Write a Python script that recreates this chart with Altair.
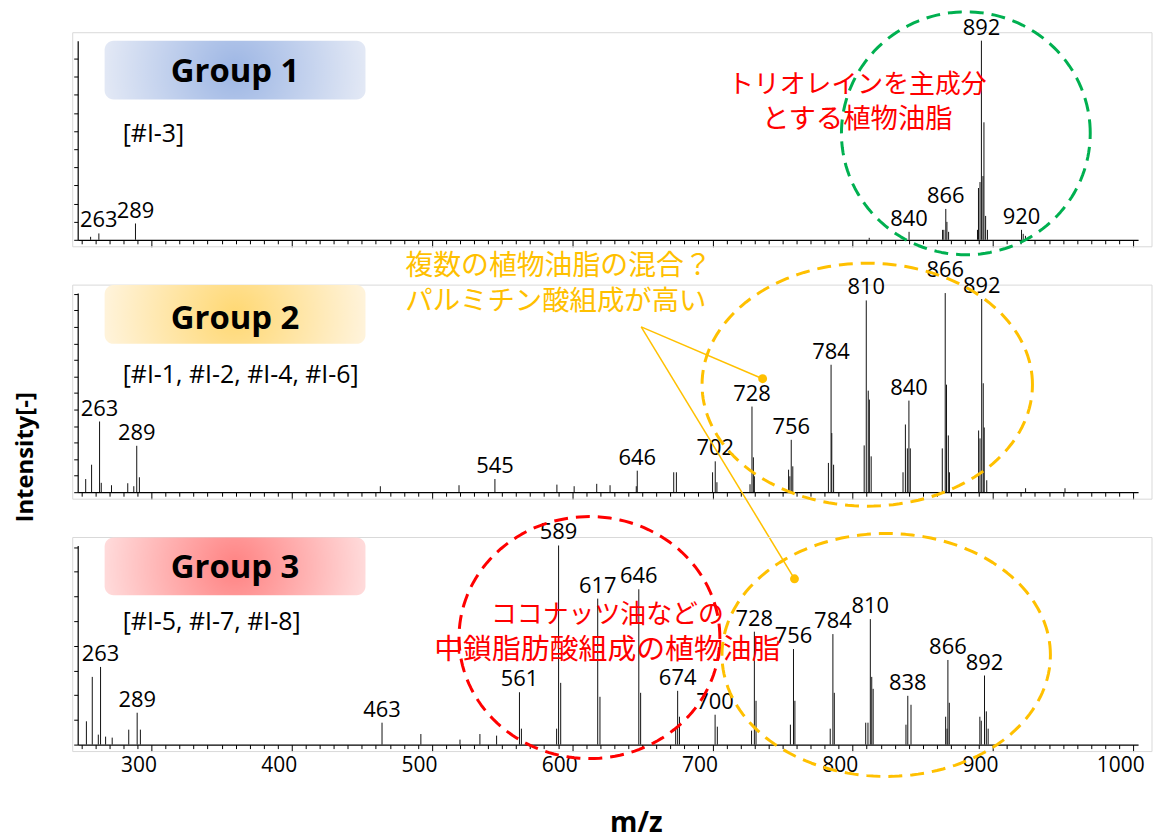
import altair as alt
import numpy as np
import pandas as pd

# ---------------- layout constants ----------------
MZ_MIN, MZ_MAX = 247.4, 1003.5
PW, PH = 1065, 200
GAP = 53.5

GREEN, ORANGE, RED = "#00B050", "#FFC000", "#FF0000"
LATIN = "Open Sans"
CJK = "Noto Sans CJK JP"

X_TICKS = list(range(250, 1001, 10))

# ---------------- data: Group 1 ----------------
g1_mz = [256.6, 262.5, 288.6, 811.8, 840.2, 864.1, 865.0, 866.4, 867.2, 868.4,
         889.0, 889.7, 890.8, 891.8, 892.9, 893.6, 894.8, 896.1, 920.4, 921.6, 923.2]
g1_int = [1.5, 3.2, 8.2, 1.0, 4.0, 5.0, 5.0, 15.5, 9.0, 4.0,
          5.0, 26.0, 29.0, 100.0, 32.0, 59.0, 12.0, 5.0, 5.0, 3.0, 2.0]
g1_labels = ["263", "289", "840", "866", "892", "920"]
g1_label_mz = [262.5, 288.6, 840.2, 866.4, 891.8, 920.4]
g1_label_int = [3.2, 8.2, 4.0, 15.5, 100.0, 5.0]
g1_yticks = [0, 9.1, 18.2, 27.3, 36.4, 45.5, 54.6, 63.7, 72.8, 81.9, 91.0, 100.1]

# ---------------- data: Group 2 ----------------
g2_mz = [253.1, 257.3, 263.0, 264.2, 271.5, 283.1, 287.4, 289.5, 291.4, 463.2,
         519.3, 544.9, 589.1, 601.4, 617.5, 627.0, 645.7, 646.4, 672.4, 674.3,
         700.1, 702.0, 703.2, 726.8, 728.2, 729.2, 729.9, 754.3, 755.2, 756.2,
         757.3, 782.7, 784.6, 785.1, 786.4, 808.2, 809.7, 811.1, 811.9, 813.2,
         835.9, 837.6, 839.0, 840.1, 841.1, 863.9, 866.0, 866.9, 868.2, 869.0,
         889.8, 890.8, 892.0, 893.1, 893.8, 895.6, 923.3, 951.4]
g2_int = [6.6, 13.8, 35.5, 4.7, 3.5, 4.5, 3.0, 23.3, 7.5, 3.0,
          3.5, 6.6, 3.8, 3.0, 4.2, 3.5, 3.0, 10.8, 10.0, 10.0,
          10.0, 15.5, 5.0, 4.0, 43.0, 17.5, 8.0, 11.3, 8.0, 26.3,
          13.0, 14.7, 64.0, 29.7, 13.8, 23.5, 96.3, 51.0, 46.5, 18.0,
          10.0, 34.0, 22.0, 46.0, 22.0, 22.0, 100.0, 54.0, 28.5, 10.0,
          31.0, 27.0, 97.0, 54.7, 32.5, 6.0, 2.0, 2.0]
g2_labels = ["263", "289", "545", "646", "702", "728", "756", "784", "810", "840", "866", "892"]
g2_label_mz = [263.0, 289.5, 544.9, 646.4, 702.0, 728.2, 756.2, 784.6, 809.7, 840.1, 866.0, 892.0]
g2_label_int = [35.5, 23.3, 6.6, 10.8, 15.5, 43.0, 26.3, 64.0, 96.3, 46.0, 100.0, 97.0]
g2_yticks = [0, 8.3, 16.6, 24.9, 33.2, 41.5, 49.8, 58.1, 66.4, 74.7, 83.0, 91.3, 99.6]

# ---------------- data: Group 3 ----------------
g3_mz = [253.6, 257.8, 262.1, 263.7, 267.3, 272.0, 283.8, 289.8, 292.1, 464.4,
         492.1, 520.0, 534.2, 546.1, 562.4, 563.8, 588.9, 590.3, 591.8, 618.2,
         619.8, 647.5, 648.8, 673.8, 675.2, 676.5, 701.9, 703.5, 727.9, 729.9,
         731.1, 755.6, 757.8, 758.8, 784.0, 785.9, 786.9, 809.3, 810.9, 812.6,
         813.6, 814.6, 838.0, 839.3, 841.6, 866.3, 867.3, 867.9, 868.9, 890.7,
         891.7, 894.0, 895.3, 896.6]
g3_int = [11.7, 34.0, 5.0, 39.0, 4.0, 3.5, 7.5, 16.0, 7.5, 11.0,
          5.3, 2.5, 5.3, 4.5, 26.3, 8.0, 8.0, 100.0, 31.0, 73.3,
          24.0, 78.0, 26.0, 8.0, 27.0, 14.0, 15.0, 9.0, 7.0, 56.7,
          22.0, 10.0, 48.0, 22.0, 8.0, 55.5, 26.0, 11.0, 11.0, 63.0,
          34.0, 28.0, 10.0, 24.5, 20.0, 14.0, 8.0, 42.5, 21.0, 14.0,
          12.0, 34.7, 16.7, 8.0]
g3_labels = ["263", "289", "463", "561", "589", "617", "646", "674", "700",
             "728", "756", "784", "810", "838", "866", "892"]
g3_label_mz = [263.7, 289.8, 464.4, 562.4, 590.3, 618.2, 647.5, 675.2, 701.9,
               729.9, 757.8, 785.9, 812.6, 839.3, 867.9, 894.0]
g3_label_int = [39.0, 16.0, 11.0, 26.3, 100.0, 73.3, 78.0, 27.0, 15.0,
                56.7, 48.0, 55.5, 63.0, 24.5, 42.5, 34.7]
g3_yticks = [0, 12.4, 24.8, 37.2, 49.6, 62.0, 74.4, 86.8, 99.2]

group_names = ["Group 1", "Group 2", "Group 3"]
sample_texts = ["[#I-3]", "[#I-1, #I-2, #I-4, #I-6]", "[#I-5, #I-7, #I-8]"]


def ellipse_df(cx, cy, rx, ry, n=160):
    t = np.linspace(0, 2 * np.pi, n + 1)
    return pd.DataFrame({"x": cx + rx * np.cos(t), "y": cy + ry * np.sin(t), "i": np.arange(n + 1)})


def xaxis(show):
    return alt.Axis(
        values=X_TICKS,
        labels=show,
        labelExpr="datum.value % 100 === 0 ? datum.value : ''",
        labelOffset=-13,
        labelFont=LATIN,
        labelFontSize=21,
        labelColor="black",
        labelPadding=3,
        labelOverlap=False,
        labelFlush=False,
        tickSize={"condition": {"test": "datum.value % 100 === 0", "value": 7}, "value": 4},
        tickColor="black",
        tickWidth=1,
        domainColor="black",
        domainWidth=1.2,
        grid=False,
        title=None,
    )


def yaxis(ticks):
    return alt.Axis(values=ticks, labels=False, tickSize=4, tickColor="black",
                    domainColor="black", domainWidth=1.2, grid=False, title=None)


def gradient(center, edge):
    return {"gradient": "radial",
            "stops": [{"offset": 0, "color": center}, {"offset": 1, "color": edge}],
            "x1": 0.5, "y1": 0.5, "x2": 0.5, "y2": 0.5, "r1": 0, "r2": 0.5}


def make_panel(k, mz, inten, labels, lab_mz, lab_int, yticks, box_y, group_y, sample_y,
               grad, show_x, extra_layers_fn, label_lift=None):
    X = alt.X("x:Q", scale=alt.Scale(domain=[MZ_MIN, MZ_MAX], nice=False, zero=False), axis=xaxis(show_x))
    Y = alt.Y("y:Q", scale=alt.Scale(domain=[0, 100], nice=False, zero=False), axis=yaxis(yticks))

    frame = alt.Chart(pd.DataFrame({"a": [0]})).mark_rect(
        fill="transparent", stroke="#D9D9D9", strokeWidth=1
    ).encode(x=alt.value(-5), x2=alt.value(PW + 14), y=alt.value(-8), y2=alt.value(PH + 7))

    box = alt.Chart(pd.DataFrame({"x": [266.6], "x2": [452.6], "y": [box_y[0]], "y2": [box_y[1]]})).mark_rect(
        fill=grad, cornerRadius=9
    ).encode(x=X, x2="x2:Q", y=Y, y2="y2:Q")

    gtext = alt.Chart(pd.DataFrame({"x": [359.6], "y": [group_y], "t": [group_names[k]]})).mark_text(
        font=LATIN, fontSize=33, fontWeight="bold", color="black", baseline="middle", align="center"
    ).encode(x=X, y=Y, text="t:N")

    stext = alt.Chart(pd.DataFrame({"x": [279.5], "y": [sample_y], "t": [sample_texts[k]]})).mark_text(
        font=LATIN, fontSize=25, color="black", baseline="middle", align="left"
    ).encode(x=X, y=Y, text="t:N")

    peaks = alt.Chart(pd.DataFrame({"x": mz, "y": inten, "y0": [0.0] * len(mz)})).mark_rule(
        color="#111111", strokeWidth=1
    ).encode(x=X, y=Y, y2="y0:Q")

    lift = label_lift or {}
    ldf = pd.DataFrame({"x": lab_mz, "y": lab_int, "t": labels})
    normal = ldf[~ldf["t"].isin(list(lift.keys()))]
    lab_layers = [alt.Chart(normal).mark_text(
        font=LATIN, fontSize=22, color="black", baseline="middle", align="center", dy=-13
    ).encode(x=X, y=Y, text="t:N")]
    for t, extra in lift.items():
        lab_layers.append(alt.Chart(ldf[ldf["t"] == t]).mark_text(
            font=LATIN, fontSize=22, color="black", baseline="middle", align="center", dy=-13 - extra
        ).encode(x=X, y=Y, text="t:N"))

    layers = [frame, box, gtext, stext, peaks] + lab_layers + extra_layers_fn(X, Y)
    return alt.layer(*layers).properties(width=PW, height=PH)


def text_layer(X, Y, x, y, t, color, size, align="center", weight="normal"):
    return alt.Chart(pd.DataFrame({"x": [x], "y": [y], "t": [t]})).mark_text(
        font=CJK, fontSize=size, color=color, baseline="middle", align=align, fontWeight=weight
    ).encode(x=X, y=Y, text="t:N")


def ellipse_layer(X, Y, cx, cy, rx, ry, color):
    return alt.Chart(ellipse_df(cx, cy, rx, ry)).mark_line(
        color=color, strokeWidth=3, strokeDash=[14, 8], strokeJoin="round"
    ).encode(x=X, y=Y, order="i:Q")


def extras1(X, Y):
    return [
        text_layer(X, Y, 803.3, 77.5, "トリオレインを主成分", RED, 26),
        text_layer(X, Y, 803.3, 60.0, "とする植物油脂", RED, 27.5),
        ellipse_layer(X, Y, 880.7, 53.5, 88.7, 61.0, GREEN),
    ]


def extras2(X, Y):
    lead = pd.DataFrame({"x": [649.2, 735.8, 649.2, 758.5], "y": [83.0, 57.0, 83.0, -43.5],
                         "seg": ["a", "a", "b", "b"]})
    dots = pd.DataFrame({"x": [735.8, 758.5], "y": [57.0, -43.5]})
    ylab = alt.Chart(pd.DataFrame({"t": ["Intensity[-]"]})).mark_text(
        font=LATIN, fontSize=24, fontWeight="bold", color="black", angle=270,
        baseline="middle", align="center"
    ).encode(x=alt.value(-52), y=alt.value(165), text="t:N")
    return [
        text_layer(X, Y, 481.0, 113.0, "複数の植物油脂の混合？", ORANGE, 28, align="left"),
        text_layer(X, Y, 481.0, 95.5, "パルミチン酸組成が高い", ORANGE, 27.5, align="left"),
        ellipse_layer(X, Y, 810.4, 54.0, 117.8, 61.0, ORANGE),
        alt.Chart(lead).mark_line(color=ORANGE, strokeWidth=1.5).encode(x=X, y=Y, detail="seg:N"),
        alt.Chart(dots).mark_circle(color=ORANGE, size=80, opacity=1).encode(x=X, y=Y),
        ylab,
    ]


def extras3(X, Y):
    xlab = alt.Chart(pd.DataFrame({"t": ["m/z"]})).mark_text(
        font=LATIN, fontSize=28, fontWeight="bold", color="black", baseline="middle", align="center"
    ).encode(x=alt.value(561), y=alt.value(280), text="t:N")
    return [
        text_layer(X, Y, 625.1, 65.0, "ココナッツ油などの", RED, 26),
        text_layer(X, Y, 625.1, 47.5, "中鎖脂肪酸組成の植物油脂", RED, 29),
        ellipse_layer(X, Y, 612.3, 53.75, 93.0, 60.75, RED),
        ellipse_layer(X, Y, 823.9, 45.0, 117.1, 61.0, ORANGE),
        xlab,
    ]


p1 = make_panel(0, g1_mz, g1_int, g1_labels, g1_label_mz, g1_label_int, g1_yticks,
                (100.0, 70.5), 84.0, 53.2, gradient("#9DB6E4", "#E2E8F5"), False, extras1)
p2 = make_panel(1, g2_mz, g2_int, g2_labels, g2_label_mz, g2_label_int, g2_yticks,
                (104.0, 74.5), 87.0, 59.0, gradient("#FFD873", "#FFF3DA"), False, extras2,
                label_lift={"866": 10})
p3 = make_panel(2, g3_mz, g3_int, g3_labels, g3_label_mz, g3_label_int, g3_yticks,
                (104.0, 75.0), 88.5, 61.7, gradient("#FF8282", "#FFDADA"), True, extras3)

chart = alt.vconcat(p1, p2, p3, spacing=GAP, bounds="flush").properties(
    padding={"left": 6, "top": 0, "right": 0, "bottom": 0},
    background="white",
).configure_view(stroke=None)

chart.save("out.html", embed_options={"renderer": "svg", "actions": False})
